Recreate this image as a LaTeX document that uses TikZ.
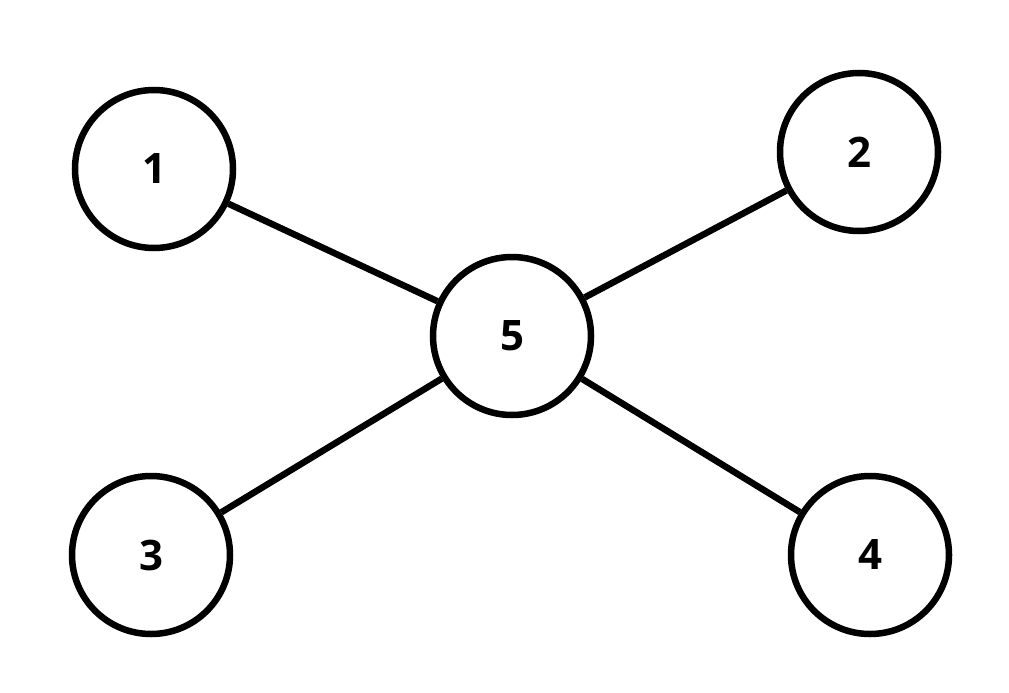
\documentclass[tikz,border=0pt]{standalone}
\usepackage{fontspec}
\setmainfont{Open Sans}
\begin{document}
\begin{tikzpicture}[x=1pt,y=-1pt,
  vert/.style={circle,draw=black,line width=6.5pt,minimum size=158pt,inner sep=0pt,font=\fontsize{42}{46}\selectfont\bfseries},
  edge/.style={line width=6.5pt}]
\useasboundingbox (0,0) rectangle (1009,693);
\node[vert] (n1) at (154,169) {1};
\node[vert] (n2) at (859,152) {2};
\node[vert] (n5) at (512,336) {5};
\node[vert] (n3) at (151,555) {3};
\node[vert] (n4) at (870,555) {4};
\draw[edge] (n1) -- (n5);
\draw[edge] (n2) -- (n5);
\draw[edge] (n3) -- (n5);
\draw[edge] (n4) -- (n5);
\end{tikzpicture}
\end{document}
